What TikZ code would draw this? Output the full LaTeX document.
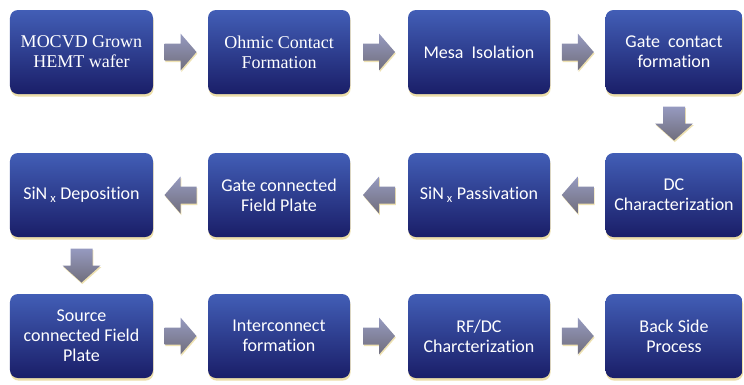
\documentclass[tikz,border=0pt]{standalone}
\usepackage{fontspec}
\newfontfamily\carl[Ligatures=NoCommon]{Carlito}
\newfontfamily\serf{Liberation Serif}
\usetikzlibrary{shadows,calc}
\definecolor{boxtop}{RGB}{66,94,182}
\definecolor{boxbot}{RGB}{26,30,104}
\definecolor{arrtop}{RGB}{150,154,192}
\definecolor{arrbot}{RGB}{112,110,124}
\definecolor{glow}{RGB}{222,196,100}
\tikzset{
  box/.style={rounded corners=8bp, top color=boxtop, bottom color=boxbot,
    minimum height=84bp, text=white, align=center, inner sep=2bp,
    font=\carl\fontsize{18bp}{20bp}\selectfont,
    drop shadow={fill=glow, opacity=0.55, shadow xshift=0.6bp, shadow yshift=-2.6bp}},
  serifbox/.style={box, font=\serf\fontsize{18bp}{20bp}\selectfont},
  arrfill/.style={top color=arrtop, bottom color=arrbot,
    drop shadow={fill=glow, opacity=0.5, shadow xshift=0.8bp, shadow yshift=-1.6bp}},
  rarrow/.pic={\path[arrfill] (-16,-8.5) -- (0,-8.5) -- (0,-18.5) -- (16,0) -- (0,18.5) -- (0,8.5) -- (-16,8.5) -- cycle;},
  larrow/.pic={\path[arrfill] (16,-8.5) -- (0,-8.5) -- (0,-18.5) -- (-16,0) -- (0,18.5) -- (0,8.5) -- (16,8.5) -- cycle;},
  darrow/.pic={\path[arrfill] (-11,-17) -- (11,-17) -- (11,0) -- (19,0) -- (0,17) -- (-19,0) -- (-11,0) -- cycle;}
}
\begin{document}
\begin{tikzpicture}[x=1bp,y=-1bp]
\useasboundingbox[fill=white] (0,0) rectangle (744,384);
% row 1
\node[serifbox, minimum width=143bp] (b1) at (81.5,52) {MOCVD Grown\\HEMT wafer};
\node[serifbox, minimum width=142bp] (b2) at (279,52) {Ohmic Contact\\Formation};
\node[box, minimum width=142bp] (b3) at (479,52) {Mesa\ \ Isolation};
\node[box, minimum width=137bp] (b4) at (674,52) {Gate\ \ contact\\formation};
% row 2
\node[box, minimum width=137bp] (b5) at (674,195) {DC\\Characterization};
\node[box, minimum width=142bp] (b6) at (479,195) {SiN\,\textsubscript{x} Passivation};
\node[box, minimum width=142bp] (b7) at (279,195) {Gate connected\\Field Plate};
\node[box, minimum width=143bp] (b8) at (81.5,195) {SiN\,\textsubscript{x} Deposition};
% row 3
\node[box, minimum width=143bp] (b9) at (81.5,336) {Source\\connected Field\\Plate};
\node[box, minimum width=142bp] (b10) at (279,336) {Interconnect\\formation};
\node[box, minimum width=142bp] (b11) at (479,336) {RF/DC\\Charcterization};
\node[box, minimum width=137bp] (b12) at (674,336) {Back Side\\Process};
% arrows
\coordinate (m1) at ($(b1.east)!0.5!(b2.west)$);
\coordinate (m2) at ($(b2.east)!0.5!(b3.west)$);
\coordinate (m3) at ($(b3.east)!0.5!(b4.west)$);
\coordinate (m4) at ($(b4.south)!0.5!(b5.north)$);
\coordinate (m5) at ($(b5.west)!0.5!(b6.east)$);
\coordinate (m6) at ($(b6.west)!0.5!(b7.east)$);
\coordinate (m7) at ($(b7.west)!0.5!(b8.east)$);
\coordinate (m8) at ($(b8.south)!0.5!(b9.north)$);
\coordinate (m9) at ($(b9.east)!0.5!(b10.west)$);
\coordinate (m10) at ($(b10.east)!0.5!(b11.west)$);
\coordinate (m11) at ($(b11.east)!0.5!(b12.west)$);
\pic at (m1) {rarrow};
\pic at (m2) {rarrow};
\pic at (m3) {rarrow};
\pic at (m4) {darrow};
\pic at (m5) {larrow};
\pic at (m6) {larrow};
\pic at (m7) {larrow};
\pic at (m8) {darrow};
\pic at (m9) {rarrow};
\pic at (m10) {rarrow};
\pic at (m11) {rarrow};
\end{tikzpicture}
\end{document}
